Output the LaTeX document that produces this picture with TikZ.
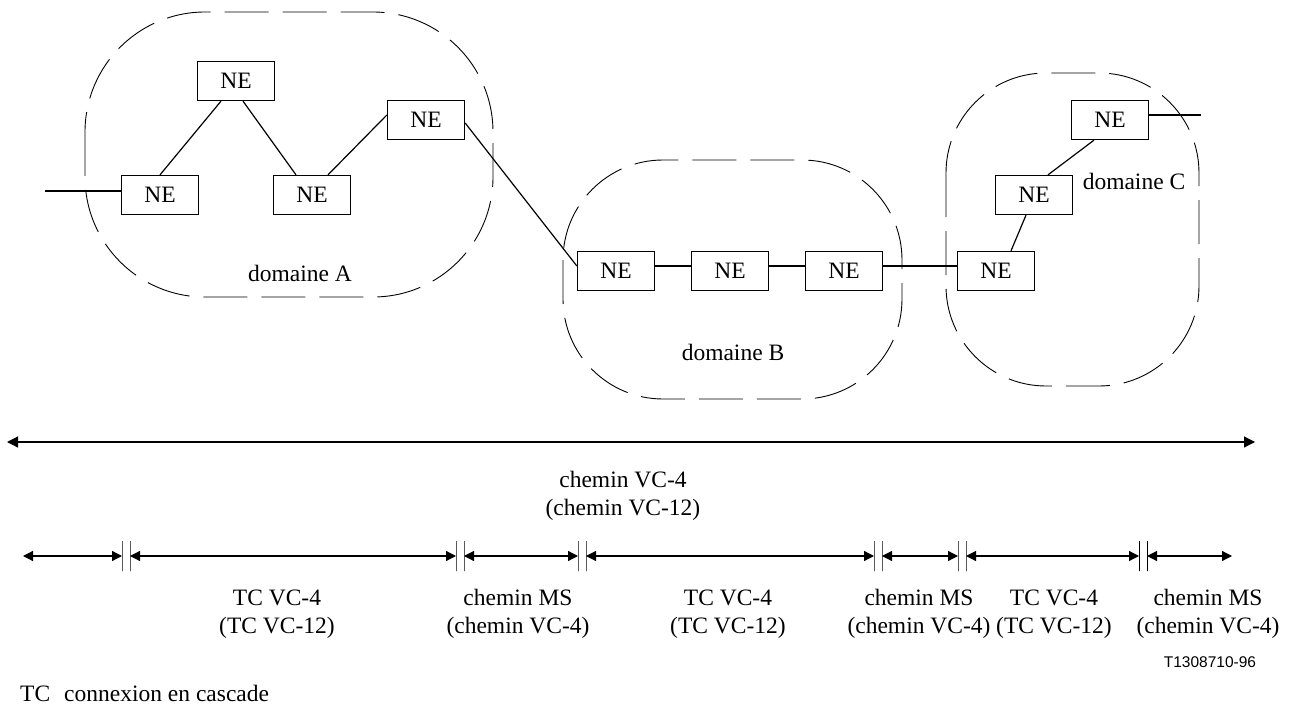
\documentclass[tikz,border=0pt]{standalone}
\usepackage{fontspec}
\setmainfont{Liberation Serif}
\newfontfamily\figsans{Liberation Sans}
\usetikzlibrary{arrows.meta}
\tikzset{
  nebox/.style={draw, line width=1.3pt, minimum width=77pt, minimum height=39pt, inner sep=0pt,
    font=\fontsize{23.5}{28}\selectfont},
  link/.style={line width=1.2pt},
  domainbox/.style={draw, line width=0.9pt, dash pattern=on 44pt off 14pt},
  lbl/.style={font=\fontsize{23.5}{28}\selectfont, align=center, inner sep=0pt},
  bar/.style={draw, line width=1pt, minimum width=0pt, minimum height=30pt, inner sep=0pt, outer sep=0pt},
  seg/.style={line width=1.2pt, {Triangle[length=10pt,width=10pt]}-{Triangle[length=10pt,width=10pt]}},
  longarrow/.style={line width=1.2pt, {Triangle[length=11pt,width=11pt]}-{Triangle[length=11pt,width=11pt]}},
}
\begin{document}
\begin{tikzpicture}[x=1pt,y=-1pt]
\useasboundingbox (0,0) rectangle (1294,706);

% domains
\draw[domainbox, rounded corners=120pt] (85,12) rectangle (493,297);
\draw[domainbox, rounded corners=100pt] (563,160) rectangle (902,399);
\draw[domainbox, rounded corners=100pt] (946,73) rectangle (1199,386);

% NE nodes
\node[nebox] (tA) at (236,81) {NE};
\node[nebox] (lA) at (160,195) {NE};
\node[nebox] (mA) at (312,195) {NE};
\node[nebox] (rA) at (426,120) {NE};
\node[nebox] (b1) at (616,271) {NE};
\node[nebox] (b2) at (730,271) {NE};
\node[nebox] (b3) at (844,271) {NE};
\node[nebox] (c1) at (996,271) {NE};
\node[nebox] (c2) at (1034,195) {NE};
\node[nebox] (c3) at (1110,120) {NE};

\coordinate (inA) at (45,191);
\coordinate (outC) at (1201,115);

% links
\draw[link] (inA) -- ([yshift=4pt]lA.west);
\draw[link] ([xshift=-15pt]tA.south) -- (lA.north);
\draw[link] ([xshift=7pt]tA.south) -- ([xshift=-16pt]mA.north);
\draw[link] ([xshift=16pt]mA.north) -- ([yshift=5pt]rA.west);
\draw[link] ([yshift=-3pt]rA.east) -- ([yshift=5pt]b1.west);
\draw[link] ([yshift=5pt]b1.east) -- ([yshift=5pt]b2.west);
\draw[link] ([yshift=5pt]b2.east) -- ([yshift=5pt]b3.west);
\draw[link] ([yshift=5pt]b3.east) -- ([yshift=5pt]c1.west);
\draw[link] ([xshift=15pt]c1.north) -- ([xshift=-8pt]c2.south);
\draw[link] ([xshift=14pt]c2.north) -- ([xshift=-16pt]c3.south);
\draw[link] ([yshift=5pt]c3.east) -- (outC);

% domain labels
\node[lbl] (labA) at (300,273) {domaine A};
\node[lbl] (labB) at (733,352) {domaine B};
\node[lbl] (labC) at (1134,181) {domaine C};

% long arrow
\coordinate (L) at (7,442);
\coordinate (R) at (1255,442);
\draw[longarrow] (L) -- (R);
\node[lbl] (vc4) at (623,496) {chemin VC-4\\(chemin VC-12)};

% segments
\coordinate (s0) at (23,556);
\coordinate (s8) at (1232,556);
\node[bar] (b1a) at (122,556) {};
\node[bar] (b1b) at (130,556) {};
\node[bar] (b2a) at (456,556) {};
\node[bar] (b2b) at (464,556) {};
\node[bar] (b3a) at (578,556) {};
\node[bar] (b3b) at (586,556) {};
\node[bar] (b4a) at (874,556) {};
\node[bar] (b4b) at (882,556) {};
\node[bar] (b5a) at (958,556) {};
\node[bar] (b5b) at (966,556) {};
\node[bar] (b6a) at (1139,556) {};
\node[bar] (b6b) at (1147,556) {};

\draw[seg] (s0) -- (b1a);
\draw[seg] (b1b) -- (b2a);
\draw[seg] (b2b) -- (b3a);
\draw[seg] (b3b) -- (b4a);
\draw[seg] (b4b) -- (b5a);
\draw[seg] (b5b) -- (b6a);
\draw[seg] (b6b) -- (s8);

\node[lbl] (l2) at (277,614) {TC VC-4\\(TC VC-12)};
\node[lbl] (l3) at (518,614) {chemin MS\\(chemin VC-4)};
\node[lbl] (l4) at (728,614) {TC VC-4\\(TC VC-12)};
\node[lbl] (l5) at (919,614) {chemin MS\\(chemin VC-4)};
\node[lbl] (l6) at (1054,614) {TC VC-4\\(TC VC-12)};
\node[lbl] (l7) at (1208,614) {chemin MS\\(chemin VC-4)};

\node[font=\figsans\fontsize{15.5}{18}\selectfont, inner sep=0pt] (ref) at (1210,662) {T1308710-96};

\node[lbl, anchor=base west] (tc) at (20,701) {TC};
\node[lbl, anchor=base west] (tcdef) at (64,701) {connexion en cascade};
\end{tikzpicture}
\end{document}
